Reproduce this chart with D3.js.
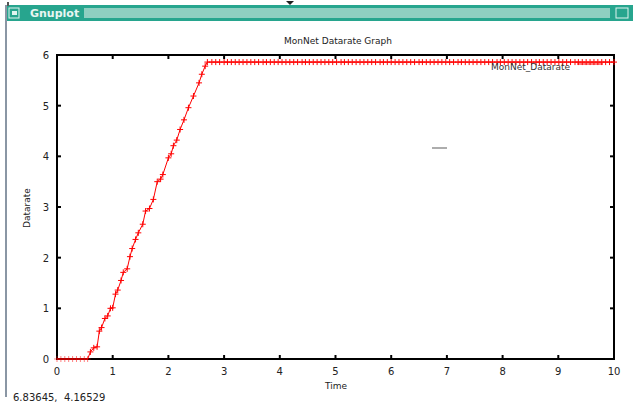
<!DOCTYPE html>
<html lang="en">
<head>
<meta charset="utf-8">
<title>MonNet Datarate Graph</title>
<script src="https://d3js.org/d3.v7.min.js"></script>
<style>
  body { margin: 0; background: #fff; }
  text { font-family: "DejaVu Sans", sans-serif; }
</style>
</head>
<body>
<div id="canvas"></div>
<script>
const width = 633
const height = 403

// data
const timeVals = [0, 0.07, 0.14, 0.21, 0.28, 0.35, 0.42, 0.49, 0.55, 0.6, 0.66, 0.72, 0.76, 0.8, 0.86, 0.91, 0.96, 1.0,
  1.05, 1.09, 1.15, 1.19, 1.26, 1.31, 1.35, 1.41, 1.46, 1.54, 1.59, 1.66, 1.73, 1.8, 1.86, 1.9, 2.0, 2.05, 2.09, 2.15,
  2.21, 2.28, 2.36, 2.45, 2.55, 2.6, 2.66, 2.7,
  2.78, 2.85, 2.92, 3.0, 3.06, 3.13, 3.2, 3.27, 3.34, 3.41, 3.48, 3.55, 3.62, 3.7, 3.76, 3.83, 3.9, 3.97, 4.04, 4.11,
  4.18, 4.25, 4.32, 4.4, 4.46, 4.53, 4.6, 4.67, 4.74, 4.81, 4.88, 4.95, 5.02, 5.1, 5.16, 5.23, 5.3, 5.37, 5.44, 5.51,
  5.58, 5.65, 5.72, 5.8, 5.86, 5.93, 6.0, 6.07, 6.14, 6.21, 6.28, 6.35, 6.42, 6.5, 6.56, 6.63, 6.7, 6.77, 6.84, 6.91,
  6.98, 7.05, 7.12, 7.2, 7.26, 7.33, 7.4, 7.47, 7.54, 7.61, 7.68, 7.75, 7.82, 7.9, 7.96, 8.03, 8.1, 8.17, 8.24, 8.31,
  8.38, 8.45, 8.52, 8.6, 8.66, 8.73, 8.8, 8.87, 8.94, 9.01, 9.08, 9.15, 9.22, 9.3, 9.36, 9.43, 9.5, 9.57, 9.64, 9.71,
  9.78, 9.85, 9.92, 10.0]
const rateVals = [0, 0, 0, 0, 0, 0, 0, 0, 0, 0.14, 0.22, 0.24, 0.55, 0.62, 0.8, 0.85, 1.0, 1.01,
  1.28, 1.36, 1.55, 1.71, 1.78, 2.02, 2.18, 2.36, 2.49, 2.66, 2.92, 2.97, 3.15, 3.5, 3.55, 3.64, 3.97, 4.05, 4.21, 4.32,
  4.53, 4.72, 4.96, 5.19, 5.45, 5.62, 5.78, 5.86,
  5.86, 5.86, 5.86, 5.86, 5.86, 5.86, 5.86, 5.86, 5.86, 5.86, 5.86, 5.86, 5.86, 5.86, 5.86, 5.86, 5.86, 5.86, 5.86, 5.86,
  5.86, 5.86, 5.86, 5.86, 5.86, 5.86, 5.86, 5.86, 5.86, 5.86, 5.86, 5.86, 5.86, 5.86, 5.86, 5.86, 5.86, 5.86, 5.86, 5.86,
  5.86, 5.86, 5.86, 5.86, 5.86, 5.86, 5.86, 5.86, 5.86, 5.86, 5.86, 5.86, 5.86, 5.86, 5.86, 5.86, 5.86, 5.86, 5.86, 5.86,
  5.86, 5.86, 5.86, 5.86, 5.86, 5.86, 5.86, 5.86, 5.86, 5.86, 5.86, 5.86, 5.86, 5.86, 5.86, 5.86, 5.86, 5.86, 5.86, 5.86,
  5.86, 5.86, 5.86, 5.86, 5.86, 5.86, 5.86, 5.86, 5.86, 5.86, 5.86, 5.86, 5.86, 5.86, 5.86, 5.86, 5.86, 5.86, 5.86, 5.86,
  5.86, 5.86, 5.86, 5.86]
const xTicks = [0, 1, 2, 3, 4, 5, 6, 7, 8, 9, 10]
const yTicks = [0, 1, 2, 3, 4, 5, 6]

const data = timeVals.map((t, i) => ({t: t, r: rateVals[i]}))

const svg = d3.select("#canvas")
  .append("svg")
    .attr("width", width)
    .attr("height", height)

// window decoration (gnuplot x11 window)
svg.append("rect").attr("x", 5).attr("y", 5).attr("width", 628).attr("height", 16).attr("fill", "#27a58e")
svg.append("rect").attr("x", 84).attr("y", 8).attr("width", 526).attr("height", 10).attr("fill", "#8fcfc1")
svg.append("rect").attr("x", 9).attr("y", 8).attr("width", 10).attr("height", 10)
  .attr("fill", "none").attr("stroke", "#e0f4ef").attr("stroke-width", 1)
svg.append("rect").attr("x", 12).attr("y", 11).attr("width", 5).attr("height", 4).attr("fill", "#e0f4ef")
svg.append("text").attr("x", 30).attr("y", 17).attr("fill", "#e8f6f2")
  .style("font-size", "11px").style("font-weight", "bold").text("Gnuplot")
svg.append("rect").attr("x", 616).attr("y", 8).attr("width", 12).attr("height", 10)
  .attr("fill", "none").attr("stroke", "#e0f4ef")
svg.append("rect").attr("x", 5).attr("y", 5).attr("width", 2).attr("height", 392).attr("fill", "#8a96a4")
svg.append("rect").attr("x", 7).attr("y", 2).attr("width", 2).attr("height", 4).attr("fill", "#555")
svg.append("path").attr("d", "M286,1 L294,1 L290,5 Z").attr("fill", "#222")

const margin = {left: 57, right: 19, top: 55, bottom: 44}
const x = d3.scaleLinear().domain([0, 10]).range([margin.left, width - margin.right])
const y = d3.scaleLinear().domain([0, 6]).range([height - margin.bottom, margin.top])

// frame
svg.append("rect")
  .attr("x", x(0)).attr("y", y(6))
  .attr("width", x(10) - x(0)).attr("height", y(0) - y(6))
  .attr("fill", "none").attr("stroke", "#000").attr("stroke-width", 2)

// ticks
const tk = 4
svg.append("g").selectAll("line").data(xTicks.slice(1, -1)).join("line")
  .attr("x1", d => x(d)).attr("x2", d => x(d)).attr("y1", y(0)).attr("y2", y(0) - tk)
  .attr("stroke", "#000").attr("stroke-width", 2)
svg.append("g").selectAll("line").data(xTicks.slice(1, -1)).join("line")
  .attr("x1", d => x(d)).attr("x2", d => x(d)).attr("y1", y(6)).attr("y2", y(6) + tk)
  .attr("stroke", "#000").attr("stroke-width", 2)
svg.append("g").selectAll("line").data(yTicks.slice(1, -1)).join("line")
  .attr("x1", x(0)).attr("x2", x(0) + tk).attr("y1", d => y(d)).attr("y2", d => y(d))
  .attr("stroke", "#000").attr("stroke-width", 2)
svg.append("g").selectAll("line").data(yTicks.slice(1, -1)).join("line")
  .attr("x1", x(10)).attr("x2", x(10) - tk).attr("y1", d => y(d)).attr("y2", d => y(d))
  .attr("stroke", "#000").attr("stroke-width", 2)

// tick labels
svg.append("g").selectAll("text").data(xTicks).join("text")
  .attr("x", d => x(d)).attr("y", y(0) + 16)
  .attr("text-anchor", "middle").style("font-size", "10px").attr("fill", "#222")
  .text(d => d)
svg.append("g").selectAll("text").data(yTicks).join("text")
  .attr("x", x(0) - 8).attr("y", d => y(d) + 4)
  .attr("text-anchor", "end").style("font-size", "10px").attr("fill", "#222")
  .text(d => d)

// titles
svg.append("text").attr("x", 338).attr("y", 44).attr("text-anchor", "middle")
  .style("font-size", "9px").attr("fill", "#222").text("MonNet Datarate Graph")
svg.append("text").attr("x", 336).attr("y", 389).attr("text-anchor", "middle")
  .style("font-size", "9px").attr("fill", "#222").text("Time")
svg.append("text").attr("transform", "translate(30,208) rotate(-90)").attr("text-anchor", "middle")
  .style("font-size", "9px").attr("fill", "#222").text("Datarate")
svg.append("text").attr("x", 13).attr("y", 401).style("white-space", "pre")
  .style("font-size", "10px").attr("fill", "#222").text("6.83645,  4.16529")

// line
const line = d3.line().x(d => x(d.t)).y(d => y(d.r))
svg.append("path").datum(data)
  .attr("d", line).attr("fill", "none").attr("stroke", "#f00").attr("stroke-width", 1)

// point markers
svg.append("g").selectAll("path").data(data).join("path")
  .attr("d", d => `M${x(d.t) - 3},${y(d.r)} h6 M${x(d.t)},${y(d.r) - 3} v6`)
  .attr("stroke", "#f00").attr("stroke-width", 1).attr("fill", "none")
  .attr("opacity", d => d.r === 0 ? 0.5 : 1)

// key
svg.append("text").attr("x", 570).attr("y", 70).attr("text-anchor", "end")
  .style("font-size", "9px").attr("fill", "#333").text("MonNet_Datarate")
svg.append("line").attr("x1", 577).attr("x2", 603).attr("y1", 64).attr("y2", 64)
  .attr("stroke", "#f00")

// stray mouse mark
svg.append("line").attr("x1", 432).attr("x2", 447).attr("y1", 148).attr("y2", 148)
  .attr("stroke", "#777").attr("stroke-width", 1.2)
</script>
</body>
</html>
